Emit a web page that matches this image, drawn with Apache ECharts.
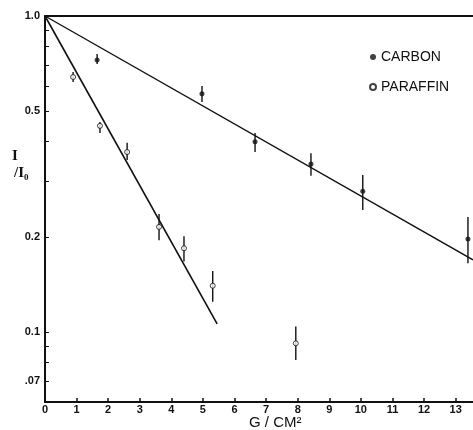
<!DOCTYPE html>
<html><head><meta charset="utf-8">
<script src="https://cdn.jsdelivr.net/npm/echarts@6/dist/echarts.min.js"></script>
<style>html,body{margin:0;padding:0;background:#fff}#c{width:473px;height:430px}</style>
</head><body><div id="c"></div>
<script>
// Carbon data (filled points) with error bar limits
var carbonX = [1.65, 4.97, 6.65, 8.42, 10.06, 13.39];
var carbonY = [0.726, 0.567, 0.40, 0.340, 0.279, 0.197];
var carbonLo = [0.705, 0.534, 0.371, 0.312, 0.243, 0.165];
var carbonHi = [0.758, 0.600, 0.426, 0.368, 0.314, 0.231];
// Paraffin data (open points)
var paraffinX = [0.89, 1.74, 2.6, 3.61, 4.4, 5.31, 7.94];
var paraffinY = [0.641, 0.449, 0.371, 0.215, 0.184, 0.140, 0.092];
var paraffinLo = [0.618, 0.426, 0.350, 0.195, 0.167, 0.1245, 0.0815];
var paraffinHi = [0.665, 0.462, 0.397, 0.236, 0.201, 0.156, 0.104];
// Fitted lines
var carbonFitX = [0, 13.55];
var carbonFitY = [1.0, 0.169];
var paraffinFitX = [0, 5.45];
var paraffinFitY = [1.0, 0.106];
// Axis ticks
var xTicks = [0,1,2,3,4,5,6,7,8,9,10,11,12,13];
var yTicks = [1.0, 0.9, 0.8, 0.7, 0.6, 0.5, 0.4, 0.3, 0.2, 0.1, 0.09, 0.08, 0.07];
var yLabelValues = [1.0, 0.5, 0.2, 0.1, 0.07];
var yLabelTexts = ['1.0', '0.5', '0.2', '0.1', '.07'];

function zip(a, b) { return a.map(function (v, i) { return [v, b[i]]; }); }
function errData(x, lo, hi) { return x.map(function (v, i) { return [v, lo[i], hi[i]]; }); }

function errRender(params, api) {
  var p1 = api.coord([api.value(0), api.value(1)]);
  var p2 = api.coord([api.value(0), api.value(2)]);
  return { type: 'line', shape: { x1: p1[0], y1: p1[1], x2: p2[0], y2: p2[1] },
           style: { stroke: '#111', lineWidth: 1.4 } };
}

var chart = echarts.init(document.getElementById('c'), null, { renderer: 'canvas' });
var labelFont = { color: '#111', fontFamily: 'Liberation Sans, Arial, sans-serif', fontWeight: 'bold', fontSize: 11 };
chart.setOption({
  backgroundColor: '#fff',
  animation: false,
  grid: { left: 45, top: 16, right: 0, bottom: 28, containLabel: false },
  legend: {
    orient: 'vertical', left: 364, top: 45, itemGap: 16, itemWidth: 6, itemHeight: 6,
    textStyle: { color: '#111', fontFamily: 'Liberation Sans, Arial, sans-serif', fontSize: 14 },
    data: ['CARBON', 'PARAFFIN']
  },
  xAxis: [{
    type: 'value', min: 0, max: 13.55, interval: 1,
    axisLine: { lineStyle: { color: '#111', width: 2 } },
    axisTick: { show: true, inside: true, length: 4, lineStyle: { color: '#111', width: 1.5 } },
    axisLabel: Object.assign({ margin: 2, showMaxLabel: false }, labelFont),
    splitLine: { show: false }
  }, {
    type: 'value', position: 'top', min: 0, max: 13.55,
    axisLine: { show: true, onZero: false, lineStyle: { color: '#111', width: 2 } },
    axisTick: { show: false }, axisLabel: { show: false }, splitLine: { show: false }
  }],
  yAxis: {
    type: 'log', min: 0.06, max: 1.0, logBase: 10,
    axisLine: { show: true, lineStyle: { color: '#111', width: 2 } },
    axisTick: { show: true, inside: true, length: 4, customValues: yTicks, lineStyle: { color: '#111', width: 1 } },
    axisLabel: Object.assign({ margin: 5, customValues: yLabelValues,
      formatter: function (v) {
        for (var i = 0; i < yLabelValues.length; i++) {
          if (Math.abs(yLabelValues[i] - v) < 1e-6) return yLabelTexts[i];
        }
        return '';
      } }, labelFont),
    splitLine: { show: false }, minorTick: { show: false }
  },
  graphic: [
    { type: 'text', left: 12, top: 149, style: { text: 'I', font: 'bold 15px "Liberation Serif", serif', fill: '#111' } },
    { type: 'text', left: 14, top: 166, style: { text: '/I\u2080', font: 'bold 15px "Liberation Serif", serif', fill: '#111' } },
    { type: 'text', left: 249, top: 415, style: { text: 'G / CM\u00b2', font: '15px "Liberation Sans", Arial, sans-serif', fill: '#111' } }
  ],
  series: [
    { type: 'line', data: zip(carbonFitX, carbonFitY), symbol: 'none', silent: true,
      lineStyle: { color: '#111', width: 1.4 }, z: 2 },
    { type: 'line', data: zip(paraffinFitX, paraffinFitY), symbol: 'none', silent: true,
      lineStyle: { color: '#111', width: 1.6 }, z: 2 },
    { type: 'custom', renderItem: errRender, data: errData(carbonX, carbonLo, carbonHi), z: 3 },
    { type: 'custom', renderItem: errRender, data: errData(paraffinX, paraffinLo, paraffinHi), z: 3 },
    { name: 'CARBON', type: 'scatter', data: zip(carbonX, carbonY), symbol: 'circle', symbolSize: 5,
      itemStyle: { color: '#111' }, z: 4 },
    { name: 'PARAFFIN', type: 'scatter', data: zip(paraffinX, paraffinY), symbol: 'circle', symbolSize: 5,
      itemStyle: { color: '#fff', borderColor: '#111', borderWidth: 1 }, z: 4 }
  ]
});
</script></body></html>
